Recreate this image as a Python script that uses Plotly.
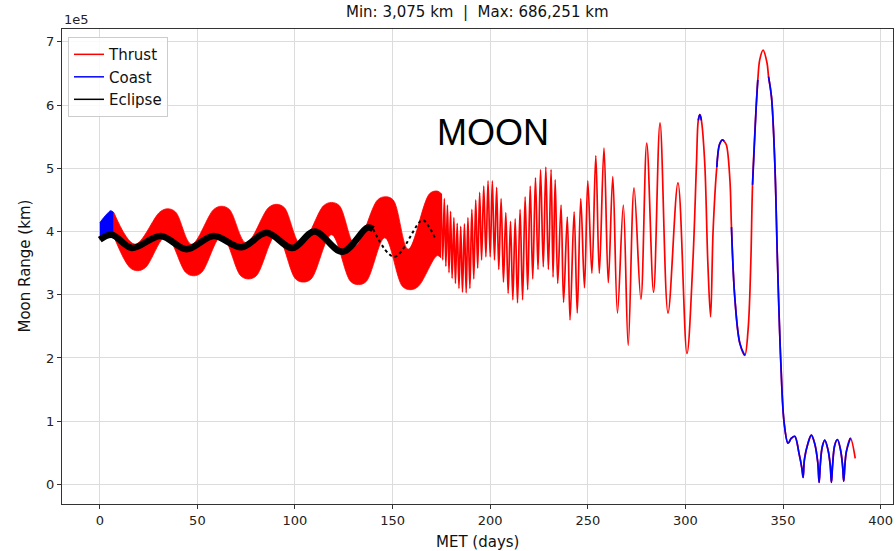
import plotly.graph_objects as go

# ---------------- data: time in days (MET), Moon range in units of 1e5 km ----------------
# early coast phase (dense, unresolved oscillation -> envelope band)
coast_day_upper = [0.0, 2.0, 4.0, 5.6, 7.2]
coast_upper = [4.14, 4.22, 4.29, 4.33, 4.30]
coast_day_lower = [0.0, 3.0, 7.2]
coast_lower = [3.87, 3.93, 3.93]

# thrust spiral (dense, unresolved oscillation -> envelope band)
thrust_day_upper = [7.2, 18.0, 30.8, 34.8, 38.8, 47.0, 58.4, 62.4, 66.4, 75.0, 86.5, 90.5, 94.5,
                    103.0, 114.7, 118.7, 122.7, 131.0, 142.3, 146.3, 150.3, 158.0, 169.0, 172.9, 174.9]
thrust_upper = [4.30, 3.80, 4.31, 4.36, 4.31, 3.80, 4.35, 4.40, 4.35, 3.82, 4.38, 4.43, 4.38,
                3.80, 4.41, 4.46, 4.41, 3.78, 4.50, 4.55, 4.50, 3.72, 4.60, 4.64, 4.60]
thrust_day_lower = [7.2, 15.4, 19.4, 23.4, 34.0, 44.1, 48.1, 52.1, 62.5, 72.2, 76.2, 80.2, 90.5,
                    100.3, 104.3, 108.3, 118.7, 128.5, 132.5, 136.5, 146.0, 155.1, 159.1, 163.1,
                    172.9, 174.9]
thrust_lower = [3.92, 3.43, 3.38, 3.43, 3.92, 3.35, 3.30, 3.35, 3.93, 3.30, 3.25, 3.30, 3.95,
                3.25, 3.20, 3.25, 3.95, 3.21, 3.16, 3.21, 3.90, 3.13, 3.08, 3.13, 3.62, 3.58]

# eclipse arcs
eclipse_day = [0.0, 6.1, 16.4, 31.2, 44.5, 58.3, 72.6, 85.4, 98.7, 110.0, 124.3, 137.1, 140.0]
eclipse_rng = [3.87, 3.95, 3.74, 3.93, 3.72, 3.93, 3.75, 3.98, 3.74, 4.00, 3.68, 4.06, 4.04]
eclipse_sparse_day = [140.0, 150.9, 165.2, 168.5, 172.0]
eclipse_sparse_rng = [4.04, 3.60, 4.18, 4.08, 3.88]

# resolved trajectory (T = thrust arc, C = coast arc, starting at that point)
traj_day = [
    174.9, 175.7, 176.5, 177.3, 178.1, 178.9, 179.7, 180.5, 181.4, 182.2,
    183.1, 184.0, 184.9, 185.8, 186.8, 187.7, 188.6, 189.6, 190.6, 191.6,
    192.6, 193.6, 194.6, 195.6, 196.7, 197.8, 198.9, 200.0, 201.1, 202.2,
    203.3, 204.4, 205.6, 206.8, 208.0, 209.2, 210.4, 211.6, 212.8, 214.0,
    215.3, 216.6, 217.9, 219.2, 220.5, 221.8, 223.2, 224.5, 225.8, 227.2,
    228.5, 229.8, 231.2, 232.2, 233.3, 234.6, 236.3, 237.6, 239.5, 240.9,
    243.0, 244.6, 246.4, 248.3, 250.0, 252.1, 254.1, 255.9, 258.3, 260.5,
    262.8, 265.2, 268.2, 270.7, 273.7, 277.2, 280.2, 283.7, 287.0, 291.1,
    296.2, 300.8, 303.8, 305.7, 306.6, 307.4, 308.2, 309.9, 311.5, 312.9,
    314.2, 316.1, 317.5, 319.0, 319.8, 321.0, 322.8, 323.6, 325.3, 327.9,
    330.4, 332.1, 333.5, 334.4, 336.1, 337.1, 338.1, 339.8, 341.8, 342.6,
    344.1, 345.8, 347.2, 348.9, 350.6, 352.6, 354.3, 356.0, 358.2, 359.7,
    360.3, 361.0, 362.8, 364.5, 366.2, 367.8, 368.5, 369.2, 370.1, 371.4,
    373.1, 374.2, 374.8, 375.4, 376.5, 377.9, 379.5, 380.5, 381.1, 381.7,
    382.4, 384.5, 387.0,
]
traj_rng = [
    4.60, 3.55, 4.52, 3.45, 4.42, 3.35, 4.32, 3.26, 4.22, 3.18,
    4.13, 3.10, 4.08, 3.04, 4.12, 3.03, 4.22, 3.10, 4.35, 3.25,
    4.50, 3.42, 4.62, 3.55, 4.72, 3.60, 4.80, 3.60, 4.80, 3.55,
    4.70, 3.40, 4.52, 3.20, 4.30, 3.02, 4.16, 2.92, 4.20, 2.87,
    4.35, 2.92, 4.55, 3.08, 4.72, 3.25, 4.85, 3.40, 4.98, 3.44,
    5.02, 3.40, 4.98, 3.28, 4.82, 3.18, 4.42, 2.88, 4.23, 2.60,
    4.31, 2.71, 4.52, 3.11, 4.80, 3.34, 5.20, 3.34, 5.32, 3.19,
    4.87, 2.71, 4.42, 2.20, 4.69, 2.93, 5.40, 3.04, 5.72, 2.71,
    4.77, 2.07, 3.50, 5.09, 5.76, 5.85, 5.76, 5.09, 3.50, 2.65,
    4.02, 5.02, 5.38, 5.45, 5.43, 5.37, 4.82, 4.07, 2.96, 2.23,
    2.04, 2.44, 3.50, 4.74, 5.88, 6.40, 6.72, 6.87, 6.67, 6.45,
    6.13, 5.09, 3.50, 1.92, 0.97, 0.65, 0.73, 0.76, 0.49, 0.25,
    0.11, 0.40, 0.65, 0.78, 0.65, 0.35, 0.03, 0.35, 0.59, 0.70,
    0.54, 0.30, 0.03, 0.30, 0.62, 0.71, 0.54, 0.30, 0.05, 0.30,
    0.51, 0.73, 0.41,
]
traj_arc = (
    ["T"] * 84 + ["C", "C"] + ["T"] * 5 + ["C", "C", "C"] + ["T"] * 3
    + ["C", "C", "C"] + ["T"] * 3 + ["C", "C"] + ["T"] * 4 + ["C"] * 32 + ["T"] * 3
)

x_ticks = [0, 50, 100, 150, 200, 250, 300, 350, 400]
y_ticks = [0, 1, 2, 3, 4, 5, 6, 7]
title_text = "Min: 3,075 km  |  Max: 686,251 km"

RED = "#ff0000"
BLUE = "#0000ff"
BLACK = "#000000"
FONT = "DejaVu Sans"


def runs_of(days, vals, arcs, kind):
    out, cur = [], None
    for d, v, a in zip(days, vals, arcs):
        if a == kind:
            if cur is None:
                cur = ([], [])
            cur[0].append(d)
            cur[1].append(v)
        elif cur is not None:
            cur[0].append(d)
            cur[1].append(v)
            out.append(cur)
            cur = None
    if cur is not None:
        out.append(cur)
    return out


fig = go.Figure()

# legend-only entries
for name, col in [("Thrust", RED), ("Coast", BLUE), ("Eclipse", BLACK)]:
    fig.add_trace(go.Scatter(x=[None], y=[None], mode="lines", name=name,
                             line=dict(color=col, width=1.5)))

# thrust band
fig.add_trace(go.Scatter(x=thrust_day_lower, y=thrust_lower, mode="lines", showlegend=False,
                         line=dict(color=RED, width=0.8, shape="spline"), hoverinfo="skip"))
fig.add_trace(go.Scatter(x=thrust_day_upper, y=thrust_upper, mode="lines", showlegend=False,
                         fill="tonexty", fillcolor=RED,
                         line=dict(color=RED, width=0.8, shape="spline"), hoverinfo="skip"))
# coast band
fig.add_trace(go.Scatter(x=coast_day_lower, y=coast_lower, mode="lines", showlegend=False,
                         line=dict(color=BLUE, width=0.8, shape="spline"), hoverinfo="skip"))
fig.add_trace(go.Scatter(x=coast_day_upper, y=coast_upper, mode="lines", showlegend=False,
                         fill="tonexty", fillcolor=BLUE,
                         line=dict(color=BLUE, width=0.8, shape="spline"), hoverinfo="skip"))

# resolved trajectory: thrust everywhere, coast arcs overlaid
fig.add_trace(go.Scatter(x=traj_day, y=traj_rng, mode="lines", showlegend=False,
                         line=dict(color=RED, width=1.7, shape="spline")))
for xs, ys in runs_of(traj_day, traj_rng, traj_arc, "C"):
    fig.add_trace(go.Scatter(x=xs, y=ys, mode="lines", showlegend=False,
                             line=dict(color=BLUE, width=1.7, shape="spline")))

# eclipse
fig.add_trace(go.Scatter(x=eclipse_day, y=eclipse_rng, mode="lines", showlegend=False,
                         line=dict(color=BLACK, width=6.5, shape="spline")))
fig.add_trace(go.Scatter(x=eclipse_sparse_day, y=eclipse_sparse_rng, mode="lines", showlegend=False,
                         line=dict(color=BLACK, width=2, dash="dot", shape="spline")))

axis_common = dict(showgrid=True, gridcolor="#dcdcdc", gridwidth=1, zeroline=False,
                   showline=True, linecolor="#333333", linewidth=1.2, mirror=True,
                   ticks="outside", ticklen=4, tickcolor="#333333",
                   tickfont=dict(family=FONT, size=13, color="#222222"))

fig.update_layout(
    width=896, height=551,
    margin=dict(l=62, r=3, t=29, b=47),
    paper_bgcolor="white", plot_bgcolor="white",
    showlegend=True,
    legend=dict(x=0.0072, y=0.983, xanchor="left", yanchor="top", traceorder="normal",
                bgcolor="rgba(255,255,255,0.85)", bordercolor="#cccccc", borderwidth=1,
                font=dict(family=FONT, size=15, color="#111111"), tracegroupgap=0),
    xaxis=dict(range=[-19.35, 406.35], tickvals=x_ticks,
               ticktext=[str(v) for v in x_ticks], **axis_common),
    yaxis=dict(range=[-0.3108, 7.2041], tickvals=y_ticks,
               ticktext=[str(v) for v in y_ticks], **axis_common),
    annotations=[
        dict(text=title_text, xref="paper", yref="paper", x=0.5, y=1.036,
             xanchor="center", yanchor="middle", showarrow=False,
             font=dict(family=FONT, size=15, color="#111111")),
        dict(text="1e5", xref="paper", yref="paper", x=0.0, y=1.019,
             xanchor="left", yanchor="middle", showarrow=False,
             font=dict(family=FONT, size=13, color="#222222")),
        dict(text="MET (days)", xref="paper", yref="paper", x=0.5, y=-0.079,
             xanchor="center", yanchor="middle", showarrow=False,
             font=dict(family=FONT, size=15, color="#111111")),
        dict(text="Moon Range (km)", xref="paper", yref="paper", x=-0.0457, y=0.5,
             xanchor="center", yanchor="middle", textangle=-90, showarrow=False,
             font=dict(family=FONT, size=15, color="#111111")),
        dict(text="MOON", xref="x", yref="y", x=201.4, y=5.56,
             xanchor="center", yanchor="middle", showarrow=False,
             font=dict(family="Liberation Sans", size=36, color="#000000")),
    ],
)

fig.write_html("out.html")
